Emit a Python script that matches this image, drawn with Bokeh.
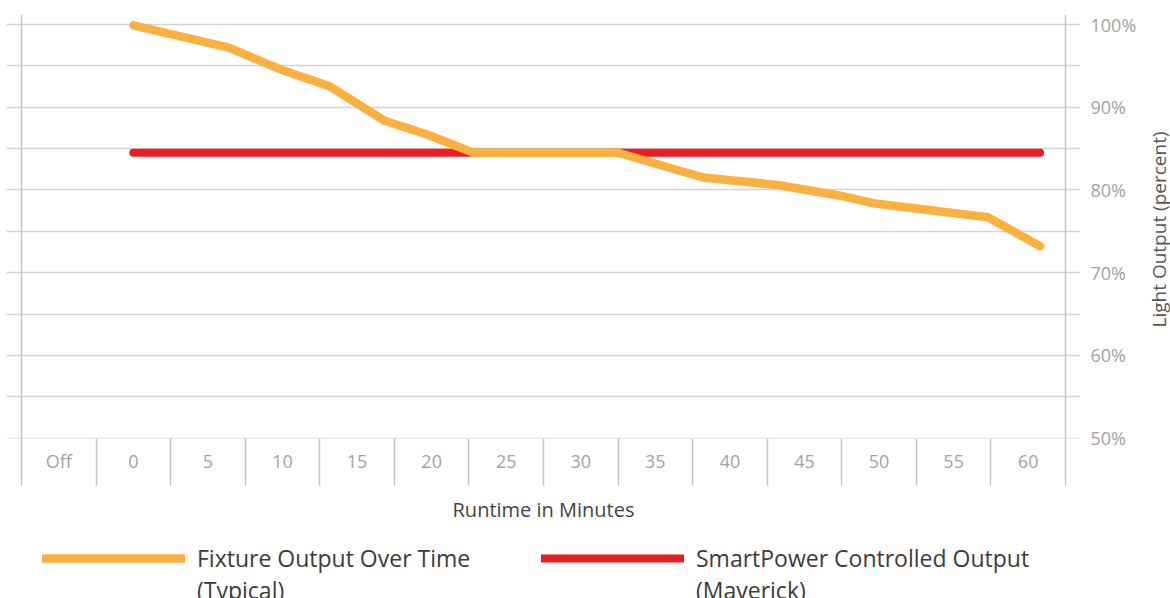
import numpy as np
from bokeh.plotting import figure
from bokeh.layouts import column, row
from bokeh.models import (Range1d, FixedTicker, PrintfTickFormatter, Span,
                          Legend, LegendItem, Label)
from bokeh.embed import file_html
from bokeh.resources import INLINE

# ---- data ----
categories = ["Off", "0", "5", "10", "15", "20", "25", "30",
              "35", "40", "45", "50", "55", "60"]
category_minutes = [-5, 0, 5, 10, 15, 20, 25, 30, 35, 40, 45, 50, 55, 60]

fixture_minutes = [0, 6.4, 10.1, 13.2, 16.8, 19.7, 22.8, 32.5, 38.2, 43.2, 47.4, 49.6, 57.3, 60.8]
fixture_output = [99.9, 97.2, 94.4, 92.5, 88.4, 86.7, 84.5, 84.5, 81.5, 80.6, 79.3, 78.4, 76.7, 73.2]

smart_minutes = [0, 60.8]
smart_output = [84.5, 84.5]

y_label_ticks = [50, 60, 70, 80, 90, 100]
y_grid_ticks = [50, 55, 60, 65, 70, 75, 80, 85, 90, 95, 100]

series_names = ["Fixture Output Over Time", "SmartPower Controlled Output"]
series_notes = ["(Typical)", "(Maverick)"]
y_title = "Light Output (percent)"
x_title = "Runtime in Minutes"

FONT = "Open Sans"
ORANGE = "#FBB040"
RED = "#ED1C24"
GRID = "#d4d4d4"
VLINE = "#c6c6c6"

boundaries = [m - 2.5 for m in category_minutes] + [category_minutes[-1] + 2.5]

p = figure(width=1140, height=530,
           x_range=Range1d(-8.5057, 63.5057), y_range=Range1d(49.95, 101.21),
           y_axis_location="right", output_backend="svg", toolbar_location=None,
           min_border_left=6, min_border_right=60, min_border_top=14,
           min_border_bottom=92)
p.outline_line_color = None
p.background_fill_color = "white"
p.border_fill_color = "white"

p.xgrid.visible = False
p.ygrid.ticker = FixedTicker(ticks=y_grid_ticks)
p.ygrid.grid_line_color = GRID
p.ygrid.grid_line_width = 1.5

# right axis (tick labels only; its title is drawn in the side strip)
yax = p.yaxis[0]
yax.ticker = FixedTicker(ticks=y_label_ticks)
yax.formatter = PrintfTickFormatter(format="%d%%")
yax.axis_line_color = None
yax.major_tick_line_color = None
yax.major_tick_out = 0
yax.major_tick_in = 0
yax.minor_tick_line_color = None
yax.major_label_standoff = 10
yax.major_label_text_font = FONT
yax.major_label_text_font_size = "18px"
yax.major_label_text_color = "#a3a3a3"

# bottom axis
xax = p.xaxis[0]
xax.ticker = FixedTicker(ticks=category_minutes, minor_ticks=boundaries)
xax.major_label_overrides = {m: c for m, c in zip(category_minutes, categories)}
xax.axis_line_color = None
xax.major_tick_line_color = None
xax.major_tick_out = 0
xax.major_tick_in = 0
xax.minor_tick_out = 47
xax.minor_tick_in = 0
xax.minor_tick_line_color = VLINE
xax.minor_tick_line_width = 1.5
xax.major_label_standoff = -37
xax.major_label_text_font = FONT
xax.major_label_text_font_size = "18px"
xax.major_label_text_color = "#a3a3a3"
xax.axis_label = x_title
xax.axis_label_text_font = FONT
xax.axis_label_text_font_style = "normal"
xax.axis_label_text_font_size = "20px"
xax.axis_label_text_color = "#444444"
xax.axis_label_standoff = 20

for loc in (boundaries[0], boundaries[-1]):
    p.add_layout(Span(location=loc, dimension="height", line_color=VLINE, line_width=1.5))

line_styles = [dict(line_color=ORANGE, line_width=8.5, line_cap="round", line_join="round"),
               dict(line_color=RED, line_width=8, line_cap="round")]

p.line(smart_minutes, smart_output, **line_styles[1])
p.line(fixture_minutes, fixture_output, **line_styles[0])

# ---- right strip with the vertical axis title ----
side = figure(width=30, height=530, x_range=Range1d(0, 1), y_range=Range1d(0, 1),
              x_axis_type=None, y_axis_type=None, output_backend="svg",
              toolbar_location=None, min_border=0)
side.outline_line_color = None
side.xgrid.visible = False
side.ygrid.visible = False
side.add_layout(Label(x=0.6, y=0.493, text=y_title, angle=np.pi / 2,
                      text_align="center", text_baseline="middle",
                      text_font=FONT, text_font_size="19px",
                      text_color="#555555"))

# ---- legend strip ----
lg = figure(width=1170, height=68, x_range=Range1d(0, 1), y_range=Range1d(0, 1),
            x_axis_type=None, y_axis_type=None, output_backend="svg",
            toolbar_location=None, min_border=0)
lg.outline_line_color = None
lg.xgrid.visible = False
lg.ygrid.visible = False

for name, note, style, x0 in zip(series_names, series_notes, line_styles, (42, 541)):
    r_sample = lg.line([-5, -4], [-5, -4], **style)
    r_blank = lg.line([-5, -4], [-5, -4], line_alpha=0)
    leg = Legend(items=[LegendItem(label=name, renderers=[r_sample]),
                        LegendItem(label=note, renderers=[r_blank])],
                 location=(x0, -8), orientation="vertical",
                 glyph_width=143, glyph_height=26, label_standoff=12,
                 spacing=0, padding=0, margin=0,
                 border_line_color=None, background_fill_alpha=0,
                 label_text_font=FONT, label_text_font_size="23px",
                 label_text_color="#3c3c3c")
    lg.add_layout(leg)

layout = column(row(p, side, spacing=0), lg, spacing=0)

open("out.html", "w").write(file_html(layout, INLINE))
